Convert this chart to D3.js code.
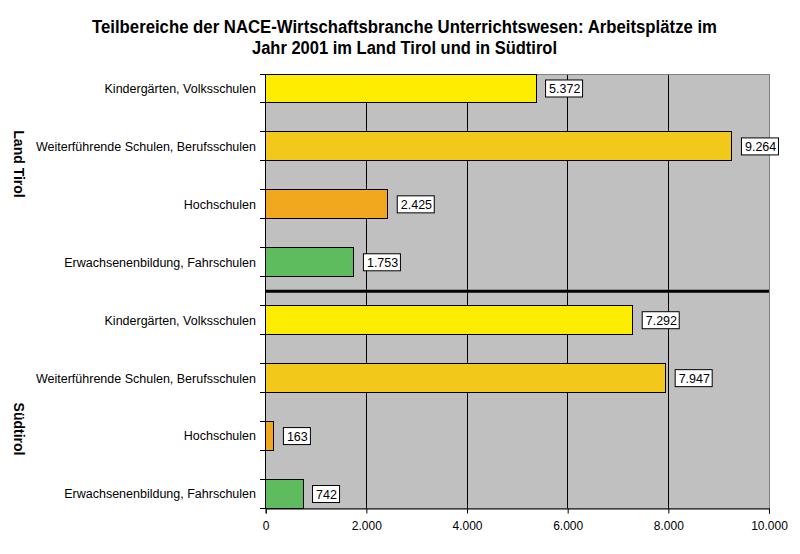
<!DOCTYPE html>
<html><head><meta charset="utf-8">
<script src="https://cdn.jsdelivr.net/npm/d3@7"></script>
<style>body{margin:0;background:#fff}svg{display:block}</style>
</head><body>
<script>
const titleLines = ["Teilbereiche der NACE-Wirtschaftsbranche Unterrichtswesen: Arbeitsplätze im", "Jahr 2001 im Land Tirol und in Südtirol"];
const regions = ["Land Tirol", "Südtirol"];
const categories = ["Kindergärten, Volksschulen", "Weiterführende Schulen, Berufsschulen", "Hochschulen", "Erwachsenenbildung, Fahrschulen"];
const valuesTirol = [5372, 9264, 2425, 1753];
const valuesSuedtirol = [7292, 7947, 163, 742];
const colors = ["#FFED00", "#F2C81A", "#F2A81E", "#5EBB5E"];
const xTicks = [0, 2000, 4000, 6000, 8000, 10000];

const W = 800, H = 554;
const m = {left: 265.7, right: 769, top: 74, bottom: 508.5};
const svg = d3.select("body").append("svg").attr("width", W).attr("height", H);
const fmt = d3.formatLocale({decimal: ",", thousands: ".", grouping: [3], currency: ["", ""]}).format(",d");
const FONT = "Liberation Sans, Arial, sans-serif";

const rows = [];
valuesTirol.forEach((v, i) => rows.push({region: 0, cat: categories[i], v, color: colors[i]}));
valuesSuedtirol.forEach((v, i) => rows.push({region: 1, cat: categories[i], v, color: colors[i]}));
// slots 0,2,4,6 | 8,10,12,14 ; slot 7 holds the separator
rows.forEach((r, i) => r.slot = i * 2);

const x = d3.scaleLinear().domain([0, 10000]).range([m.left, m.right]);
const y = d3.scaleBand().domain(d3.range(15)).range([m.top, m.bottom]).paddingInner(0).paddingOuter(0);

svg.append("rect").attr("x", m.left).attr("y", m.top).attr("width", m.right - m.left).attr("height", m.bottom - m.top).attr("fill", "#C0C0C0");

svg.append("g").selectAll("line").data(xTicks.slice(1, -1)).join("line")
  .attr("x1", d => x(d)).attr("x2", d => x(d)).attr("y1", m.top).attr("y2", m.bottom)
  .attr("stroke", "#000").attr("stroke-width", 1).attr("shape-rendering", "crispEdges");

svg.append("rect").attr("x", m.left).attr("y", m.top).attr("width", m.right - m.left).attr("height", m.bottom - m.top)
  .attr("fill", "none").attr("stroke", "#808080").attr("stroke-width", 1).attr("shape-rendering", "crispEdges");

svg.append("g").selectAll("rect").data(rows).join("rect")
  .attr("x", x(0)).attr("y", d => y(d.slot)).attr("width", d => x(d.v) - x(0)).attr("height", y.bandwidth())
  .attr("fill", d => d.color).attr("stroke", "#000").attr("stroke-width", 1).attr("shape-rendering", "crispEdges");

svg.append("line").attr("x1", m.left).attr("x2", m.right)
  .attr("y1", y(7) + y.bandwidth() / 2).attr("y2", y(7) + y.bandwidth() / 2)
  .attr("stroke", "#000").attr("stroke-width", 3);

const xAxis = d3.axisBottom(x).tickValues(xTicks).tickFormat(fmt).tickSize(5).tickPadding(8);
const gx = svg.append("g").attr("transform", `translate(0,${m.bottom})`).call(xAxis);
gx.select(".domain").attr("stroke", "#000");
gx.selectAll("text").attr("font-family", FONT).attr("font-size", 12).attr("fill", "#000");

const yb = d3.range(16).map(i => i < 15 ? y(i) : m.bottom);
svg.append("line").attr("x1", m.left).attr("x2", m.left).attr("y1", m.top).attr("y2", m.bottom).attr("stroke", "#000").attr("shape-rendering", "crispEdges");
svg.append("g").selectAll("line").data(yb).join("line")
  .attr("x1", m.left - 6).attr("x2", m.left).attr("y1", d => d).attr("y2", d => d)
  .attr("stroke", "#000").attr("shape-rendering", "crispEdges");

svg.append("g").selectAll("text").data(rows).join("text")
  .attr("x", 256).attr("y", d => y(d.slot) + y.bandwidth() / 2).attr("dy", "0.35em")
  .attr("text-anchor", "end").attr("font-family", FONT).attr("font-size", 12.5)
  .attr("fill", "#000").text(d => d.cat);

const regionCenters = [164, 429];
svg.append("g").selectAll("text").data(regions).join("text")
  .attr("transform", (d, i) => `translate(14,${regionCenters[i]}) rotate(90)`)
  .attr("text-anchor", "middle").attr("font-family", FONT)
  .attr("font-size", 14).attr("font-weight", "bold").attr("fill", "#000").text(d => d);

const lab = svg.append("g").selectAll("g").data(rows).join("g")
  .attr("transform", d => `translate(${x(d.v) + 10},${y(d.slot) + y.bandwidth() / 2})`);
lab.append("text").attr("x", 3).attr("dy", "0.36em")
  .attr("font-family", FONT).attr("font-size", 12.5).attr("fill", "#000")
  .text(d => fmt(d.v));
lab.each(function() {
  const g = d3.select(this);
  const bb = g.select("text").node().getBBox();
  g.insert("rect", "text").attr("x", -0.5).attr("y", -8.5).attr("width", Math.round(bb.width) + 6).attr("height", 17)
    .attr("fill", "#fff").attr("stroke", "#000").attr("stroke-width", 1);
});

const titleWidths = [625, 305];
svg.append("g").selectAll("text").data(titleLines).join("text")
  .attr("x", 404.5).attr("y", (d, i) => 33 + i * 21).attr("text-anchor", "middle")
  .attr("font-family", FONT).attr("textLength", (d, i) => titleWidths[i]).attr("lengthAdjust", "spacingAndGlyphs")
  .attr("font-size", 18).attr("font-weight", "bold").attr("fill", "#000").text(d => d);
</script>
</body></html>
